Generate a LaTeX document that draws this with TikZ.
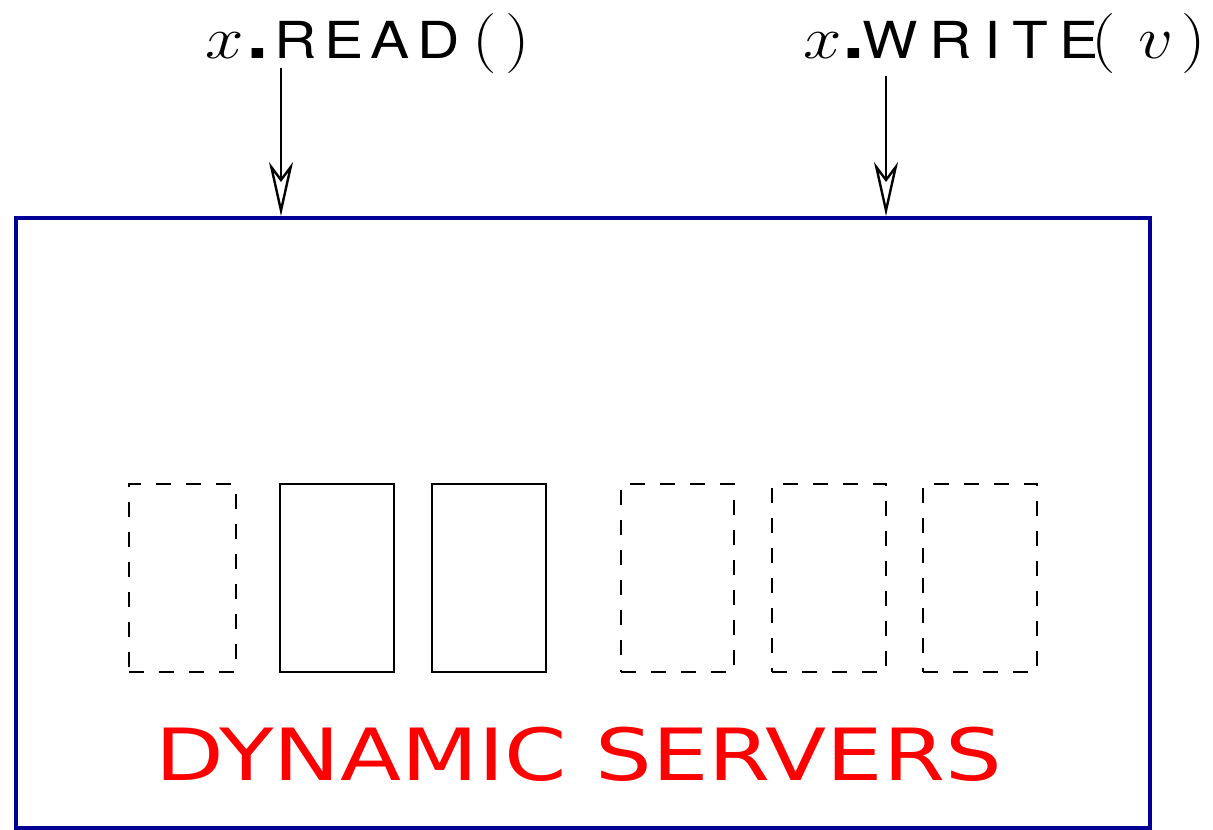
\RequirePackage{fix-cm}
\documentclass[tikz,border=0pt]{standalone}
\usepackage{fontspec}
% sans parts of the operation names, spaced out
\newfontfamily\hvr[Scale=0.85, LetterSpace=13]{TeX Gyre Heros}
\newfontfamily\hvw[Scale=0.85, LetterSpace=20]{TeX Gyre Heros}
\newfontfamily\hvdot[Scale=1.6]{TeX Gyre Heros}
\newfontfamily\dv{DejaVu Sans}
\usetikzlibrary{arrows.meta}
\definecolor{frameblue}{RGB}{0,0,150}
\tikzset{
  opname/.style={inner sep=0pt, font=\fontsize{60}{70}\selectfont, xscale=1.15},
  call/.style={line width=2.4pt, -{Stealth[open, fill=white, length=54pt, width=24pt, inset=16pt]}},
  frame/.style={draw=frameblue, line width=4pt, inner sep=0pt},
  server/.style={draw, line width=2.2pt, inner sep=0pt, minimum height=188pt},
  spare/.style={server, dash pattern=on 15pt off 15pt},
  caption/.style={inner sep=0pt, text=red, font=\dv\fontsize{72}{80}\selectfont, xscale=1.24}
}
\begin{document}
\begin{tikzpicture}[x=1pt, y=-1pt]
  \useasboundingbox (0,0) rectangle (1213,830);
  % outer frame
  \node[frame, minimum width=1134pt, minimum height=610pt] (frame) at (583,523) {};
  % operation labels
  \node[opname, anchor=base west] (read) at (205,58.3)
    {$x$\kern-0.9pt{\hvdot.}\kern0.9pt{\hvr READ}\kern10.5pt$($\kern8pt$)$};
  \node[opname, anchor=base west] (write) at (803,58.3)
    {$x$\kern-2.6pt{\hvdot.}\kern-5.6pt{\hvw WRITE}\kern-5.9pt$($\kern19pt$v$\kern6.6pt$)$};
  \coordinate (rs) at (281,68);
  \coordinate (ws) at (886,76);
  \draw[call] (rs) -- (rs |- frame.north);
  \draw[call] (ws) -- (ws |- frame.north);
  % servers
  \node[spare, minimum width=107pt] (s1) at (182.5,578) {};
  \node[server, minimum width=114pt] (s2) at (337,578) {};
  \node[server, minimum width=114pt] (s3) at (489,578) {};
  \node[spare, minimum width=113pt] (s4) at (677.5,578) {};
  \node[spare, minimum width=114pt] (s5) at (829,578) {};
  \node[spare, minimum width=114pt] (s6) at (980,578) {};
  \node[caption, anchor=base] (cap) at (578.5,780) {DYNAMIC SERVERS};
\end{tikzpicture}
\end{document}
